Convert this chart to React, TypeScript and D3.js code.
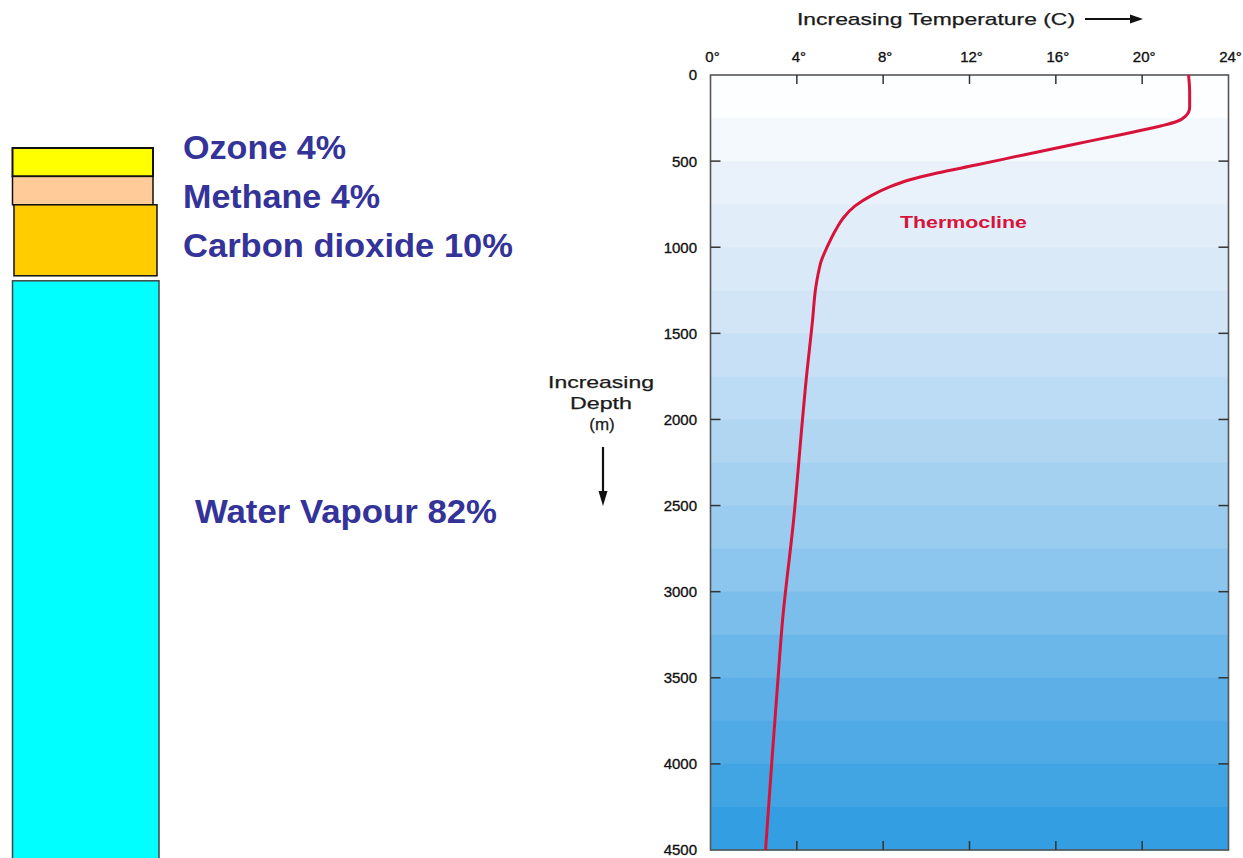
import React from "react";
import * as d3 from "d3";

// ---- Left panel data (greenhouse contribution) ----
const gases = ["Ozone", "Methane", "Carbon dioxide", "Water Vapour"];
const gasShares = [4, 4, 10, 82];
const gasColors = ["#ffff00", "#ffcc99", "#ffcc00", "#00ffff"];
const gasLabels = ["Ozone 4%", "Methane 4%", "Carbon dioxide 10%", "Water Vapour 82%"];

// ---- Right panel data (temperature profile) ----
const depthsM = [0, 100, 190, 240, 270, 295, 348, 406, 464, 523, 569, 610, 650, 700, 760, 830, 900, 1000, 1080, 1160, 1231, 1422, 1811, 2003, 2584, 3164, 3553, 3937, 4500];
const tempsC = [22.15, 22.2, 22.2, 22.0, 21.6, 20.9, 18.95, 16.7, 14.5, 12.3, 10.5, 9.2, 8.3, 7.45, 6.7, 6.15, 5.8, 5.4, 5.13, 4.98, 4.88, 4.73, 4.4, 4.26, 3.85, 3.34, 3.1, 2.87, 2.55];
const tempTicks = [0, 4, 8, 12, 16, 20, 24];
const depthTicks = [0, 500, 1000, 1500, 2000, 2500, 3000, 3500, 4000, 4500];

export default function App() {
  const W = 1243, H = 858;
  // left stacked column
  const pxPerPct = 7.1;
  const stackTop = 148;
  const barX = [12.5, 12.5, 14, 12.5];
  const barW = [140.5, 140.5, 143, 146.5];
  const gapBefore = [0, 0, 0, 5];
  const labelX = [183, 183, 183, 195];
  const labelY = [159, 208, 257, 523];
  const labelLen = [163, 197, 330, 302];
  let acc = stackTop;
  const bars = gasShares.map((v, i) => {
    acc += gapBefore[i];
    const y0 = acc;
    const h = v * pxPerPct;
    acc += h;
    return { y: y0, h };
  });

  // right chart
  const x = d3.scaleLinear().domain([0, 24]).range([710.5, 1228.5]);
  const y = d3.scaleLinear().domain([0, 4500]).range([75, 850]);
  const line = d3
    .line<number>()
    .x((_, i) => x(tempsC[i]))
    .y((d) => y(d))
    .curve(d3.curveMonotoneY);
  const path = line(depthsM) || "";

  const bandColor = d3
    .scaleLinear<string>()
    .domain([0, 0.05, 0.12, 0.33, 0.6, 0.8, 1])
    .range(["#ffffff", "#fbfdff", "#ecf4fc", "#cde3f6", "#97caef", "#5eb0e7", "#2c9be0"])
    .interpolate(d3.interpolateRgb);
  const bandStep = 250;
  const bands = d3.range(0, 4500, bandStep);

  const tickFont = "'Liberation Sans', Arial, Helvetica, sans-serif";

  return (
    <svg width={W} height={H} style={{ position: "absolute", left: 0, top: 0, background: "#fff" }}>
      {/* Left column */}
      {bars.map((b, i) => (
        <rect
          key={gases[i]}
          x={barX[i]}
          y={b.y}
          width={barW[i]}
          height={b.h}
          fill={gasColors[i]}
          stroke={i === 3 ? "#444" : "#111"}
          strokeWidth={i === 0 ? 2 : 1.5}
        />
      ))}
      {gasLabels.map((t, i) => (
        <text
          key={t}
          x={labelX[i]}
          y={labelY[i]}
          fontFamily={tickFont}
          fontWeight="bold"
          fontSize={33}
          fill="#333399"
          textLength={labelLen[i]}
          lengthAdjust="spacingAndGlyphs"
        >
          {t}
        </text>
      ))}

      {/* Right chart background bands */}
      {bands.map((d) => (
        <rect
          key={d}
          x={x(0)}
          y={y(d)}
          width={x(24) - x(0)}
          height={y(d + bandStep) - y(d) + 0.5}
          fill={bandColor((d + bandStep / 2) / 4500)}
        />
      ))}
      <rect x={x(0)} y={y(0)} width={x(24) - x(0)} height={y(4500) - y(0)} fill="none" stroke="#555" strokeWidth={1.6} />

      {/* ticks */}
      {tempTicks.slice(1, -1).map((t) => (
        <g key={"tt" + t} stroke="#333" strokeWidth={1.5}>
          <line x1={x(t)} x2={x(t)} y1={y(0)} y2={y(0) + 9} />
          <line x1={x(t)} x2={x(t)} y1={y(4500)} y2={y(4500) - 9} />
        </g>
      ))}
      {depthTicks.slice(1, -1).map((d) => (
        <g key={"dt" + d} stroke="#333" strokeWidth={1.5}>
          <line x1={x(0)} x2={x(0) + 10} y1={y(d)} y2={y(d)} />
          <line x1={x(24)} x2={x(24) - 10} y1={y(d)} y2={y(d)} />
        </g>
      ))}
      {tempTicks.map((t) => (
        <text key={"tl" + t} x={x(t) + 2} y={62} textAnchor="middle" fontFamily={tickFont} fontSize={15} fill="#111" stroke="#111" strokeWidth={0.35}>
          {t}°
        </text>
      ))}
      {depthTicks.map((d) => (
        <text key={"dl" + d} x={697} y={y(d)} dy="0.36em" textAnchor="end" fontFamily={tickFont} fontSize={15} fill="#111" stroke="#111" strokeWidth={0.35}>
          {d}
        </text>
      ))}

      {/* axis titles */}
      <text x={797} y={25} fontFamily={tickFont} fontSize={17} fill="#1a1a1a" stroke="#1a1a1a" strokeWidth={0.25} textLength={278} lengthAdjust="spacingAndGlyphs">
        Increasing Temperature (C)
      </text>
      <line x1={1085} x2={1132} y1={19} y2={19} stroke="#111" strokeWidth={2.2} />
      <path d="M1130,14.5 L1143,19 L1130,23.5 Z" fill="#111" />

      <g fontFamily={tickFont} fontSize={17} fill="#1a1a1a" stroke="#1a1a1a" strokeWidth={0.25} textAnchor="middle">
        <text x={601} y={388} textLength={106} lengthAdjust="spacingAndGlyphs">Increasing</text>
        <text x={601} y={409} textLength={62} lengthAdjust="spacingAndGlyphs">Depth</text>
        <text x={602} y={430}>(m)</text>
      </g>
      <line x1={603} x2={603} y1={447} y2={493} stroke="#111" strokeWidth={2.2} />
      <path d="M598.5,491 L603,506 L607.5,491 Z" fill="#111" />

      {/* temperature curve */}
      <path d={path} fill="none" stroke="#d8133a" strokeWidth={3} strokeLinejoin="round" />
      <text x={900} y={228} fontFamily={tickFont} fontWeight="bold" fontSize={17} fill="#d8133a" textLength={127} lengthAdjust="spacingAndGlyphs">
        Thermocline
      </text>
    </svg>
  );
}
